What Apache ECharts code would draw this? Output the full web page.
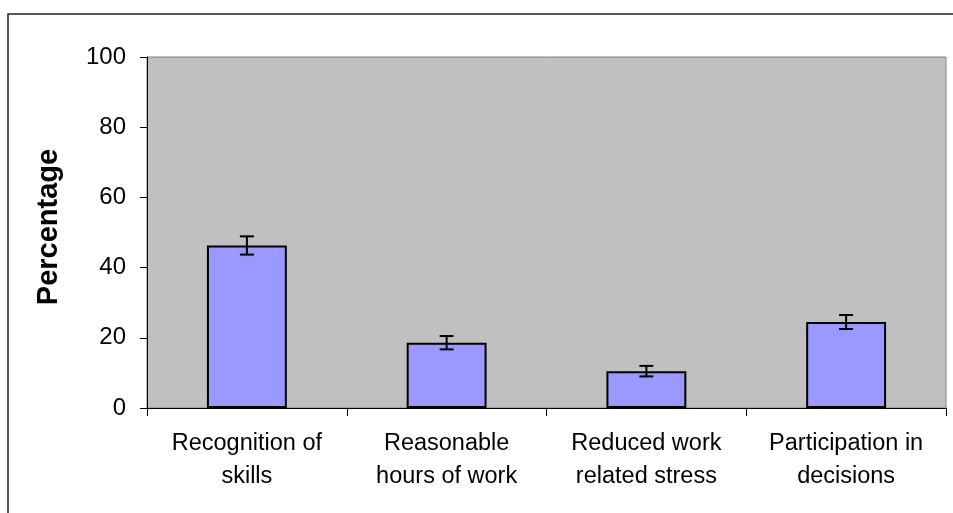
<!DOCTYPE html>
<html>
<head>
<meta charset="utf-8">
<script src="https://cdn.jsdelivr.net/npm/echarts@6/dist/echarts.min.js"></script>
<style>
  html, body { margin: 0; padding: 0; background: #fff; }
  #chart { width: 953px; height: 513px; }
</style>
</head>
<body>
<div id="chart"></div>
<script>
// categories and measured values
const categories = ['Recognition of\nskills', 'Reasonable\nhours of work', 'Reduced work\nrelated stress', 'Participation in\ndecisions'];
const percentages = [46.3, 18.6, 10.5, 24.5];
const errors = [2.6, 1.9, 1.5, 2.0];
const yTicks = [0, 20, 40, 60, 80, 100];

const errorData = percentages.map((v, i) => [i, v - errors[i], v + errors[i]]);

const chart = echarts.init(document.getElementById('chart'));

const option = {
    animation: false,
    textStyle: { fontFamily: 'Liberation Sans, Arial, sans-serif' },
    graphic: [{
        type: 'rect',
        shape: { x: 8, y: 14, width: 1000, height: 600 },
        style: { fill: 'none', stroke: '#222', lineWidth: 1.5 },
        silent: true
    }],
    grid: {
        left: 147, right: 7, top: 57, bottom: 105,
        show: true,
        backgroundColor: '#C0C0C0',
        borderColor: '#808080',
        borderWidth: 1
    },
    xAxis: {
        type: 'category',
        data: categories,
        boundaryGap: true,
        axisLine: { lineStyle: { color: '#000', width: 1 } },
        axisTick: { show: true, length: 8, inside: false, lineStyle: { color: '#000' } },
        axisLabel: { color: '#000', fontSize: 23.5, lineHeight: 33, margin: 19, interval: 0 }
    },
    yAxis: {
        type: 'value',
        min: yTicks[0],
        max: yTicks[yTicks.length - 1],
        interval: 20,
        name: 'Percentage',
        nameLocation: 'middle',
        nameGap: 84,
        nameTextStyle: { color: '#000', fontSize: 29, fontWeight: 'bold', padding: [0, 0, 0, 11] },
        axisLine: { show: true, lineStyle: { color: '#000', width: 1 } },
        axisTick: { show: true, length: 7, lineStyle: { color: '#000' } },
        axisLabel: { color: '#000', fontSize: 24, margin: 21 },
        splitLine: { show: false }
    },
    series: [
        {
            type: 'bar',
            data: percentages,
            barWidth: '40%',
            itemStyle: { color: '#9999FF', borderColor: '#000', borderWidth: 2 }
        },
        {
            type: 'custom',
            data: errorData,
            z: 10,
            renderItem: function (params, api) {
                const x = api.value(0);
                const lo = api.coord([x, api.value(1)]);
                const hi = api.coord([x, api.value(2)]);
                const cap = 7;
                const style = { stroke: '#000', lineWidth: 2 };
                return {
                    type: 'group',
                    children: [
                        { type: 'line', shape: { x1: lo[0], y1: lo[1], x2: hi[0], y2: hi[1] }, style: style },
                        { type: 'line', shape: { x1: hi[0] - cap, y1: hi[1], x2: hi[0] + cap, y2: hi[1] }, style: style },
                        { type: 'line', shape: { x1: lo[0] - cap, y1: lo[1], x2: lo[0] + cap, y2: lo[1] }, style: style }
                    ]
                };
            }
        }
    ]
};

chart.setOption(option);
</script>
</body>
</html>
